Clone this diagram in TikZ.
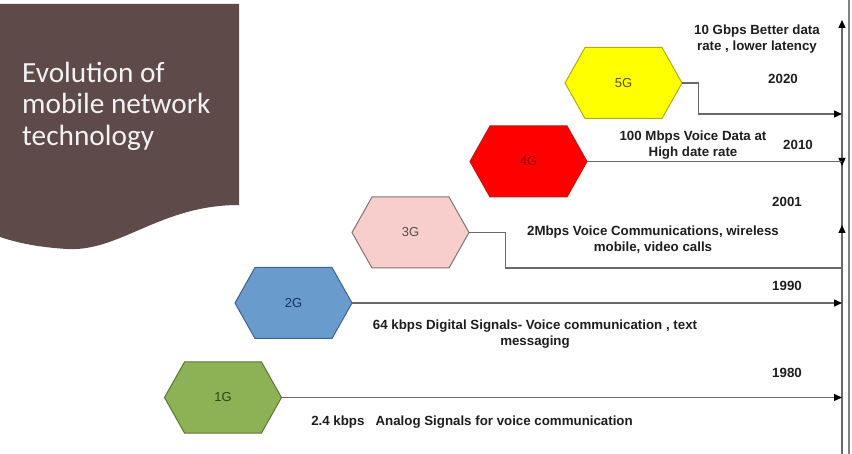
\documentclass[tikz,border=0pt]{standalone}
\usepackage{fontspec}
\setmainfont{Liberation Sans}
\newfontfamily\titlefont{Carlito}
\usetikzlibrary{arrows.meta,calc}
\definecolor{brownbg}{RGB}{94,74,72}
\definecolor{linegray}{RGB}{105,105,105}
\definecolor{txtdark}{RGB}{30,30,30}
\definecolor{yel}{RGB}{255,255,0}
\definecolor{yelb}{RGB}{175,175,20}
\definecolor{yelt}{RGB}{80,80,0}
\definecolor{redf}{RGB}{255,0,0}
\definecolor{redb}{RGB}{200,20,20}
\definecolor{redt}{RGB}{150,0,0}
\definecolor{pinkf}{RGB}{248,206,204}
\definecolor{pinkb}{RGB}{130,115,115}
\definecolor{pinkt}{RGB}{80,80,80}
\definecolor{bluef}{RGB}{105,155,205}
\definecolor{blueb}{RGB}{60,100,145}
\definecolor{bluet}{RGB}{20,50,100}
\definecolor{greenf}{RGB}{140,178,85}
\definecolor{greenb}{RGB}{90,120,50}
\definecolor{greent}{RGB}{40,70,20}
\tikzset{
  hexlabel/.style={minimum width=117pt, minimum height=71pt, inner sep=0pt,
    font=\fontsize{13}{15}\selectfont},
  hexshape/.style={line width=1pt},
  conn/.style={draw=linegray, line width=1.2pt},
  tip/.style={-{Triangle[length=8pt,width=7pt,black]}},
  lbl/.style={font=\bfseries\fontsize{13.3}{16}\selectfont, text=txtdark, align=center, inner sep=0pt},
  titletext/.style={font=\titlefont\fontsize{29.3}{31.5}\selectfont, text=white!95!black, align=left, inner sep=0pt},
}
\newcommand{\hexnode}[6]{%
  \path[hexshape, fill=#3, draw=#4] ($#2+(-58.5,0)$) -- ($#2+(-38.5,-35.5)$) -- ($#2+(38.5,-35.5)$) -- ($#2+(58.5,0)$) -- ($#2+(38.5,35.5)$) -- ($#2+(-38.5,35.5)$) -- cycle;
  \node[hexlabel, text=#5] (#1) at #2 {#6};
}
\begin{document}
\begin{tikzpicture}[x=1pt,y=-1pt]
\useasboundingbox (0,0) rectangle (852,454);
\fill[white] (0,0) rectangle (852,454);
% title panel
\fill[brownbg] (0,4) -- (239,4) -- (239,205) .. controls (160,205) and (120,252) .. (67,249) .. controls (35,247) and (15,242) .. (0,237) -- cycle;
\node[titletext, anchor=north west] (title) at (22,61.5) {Evolution of\\mobile network\\technology};
% right frame
\coordinate (fr1) at (849,0);
\coordinate (fr2) at (849,454);
\draw[draw=gray, line width=1.2pt] (fr1) -- (fr2);
% hexagons
\hexnode{h5}{(623.5,83)}{yel}{yelb}{yelt}{5G}
\hexnode{h4}{(528.5,161.5)}{redf}{redb}{redt}{4G}
\hexnode{h3}{(410.5,232.5)}{pinkf}{pinkb}{pinkt}{3G}
\hexnode{h2}{(293.5,303)}{bluef}{blueb}{bluet}{2G}
\hexnode{h1}{(223,397.5)}{greenf}{greenb}{greent}{1G}
% axis coordinates
\coordinate (axtop) at (842,20);
\coordinate (axbot) at (842,454);
\coordinate (ax5) at (842,114);
\coordinate (ax4) at (842,161.5);
\coordinate (ax3) at (842,268);
\coordinate (ax2) at (842,303);
\coordinate (ax1) at (842,397.5);
\coordinate (dn1) at (842,156);
\coordinate (dn2) at (842,166);
\coordinate (up1) at (842,235);
\coordinate (up2) at (842,225);
% axis
\draw[conn, tip] (axbot) -- (axtop);
\draw[conn, tip] (dn1) -- (dn2);
\draw[conn, tip] (up1) -- (up2);
% connectors
\draw[conn, tip] (h5.east) -- ++(16,0) |- (ax5);
\draw[conn] (h4.east) -- (ax4);
\draw[conn] (h3.east) -- ++(36,0) |- (ax3);
\draw[conn, tip] (h2.east) -- (ax2);
\draw[conn, tip] (h1.east) -- (ax1);
% labels
\node[lbl] (t5) at (757,39) {10 Gbps Better data\\rate , lower latency};
\node[lbl] (y5) at (783,79) {2020};
\node[lbl] (t4) at (693,145) {100 Mbps Voice Data at\\High date rate};
\node[lbl] (y4) at (798,145) {2010};
\node[lbl] (y3) at (787,202) {2001};
\node[lbl] (t3) at (653,240) {2Mbps Voice Communications, wireless\\mobile, video calls};
\node[lbl] (y2) at (787,286) {1990};
\node[lbl] (t2) at (535,334) {64 kbps Digital Signals- Voice communication , text\\messaging};
\node[lbl] (y1) at (787,373) {1980};
\node[lbl] (t1) at (472,422) {2.4 kbps\ \ \ Analog Signals for voice communication};
\end{tikzpicture}
\end{document}
